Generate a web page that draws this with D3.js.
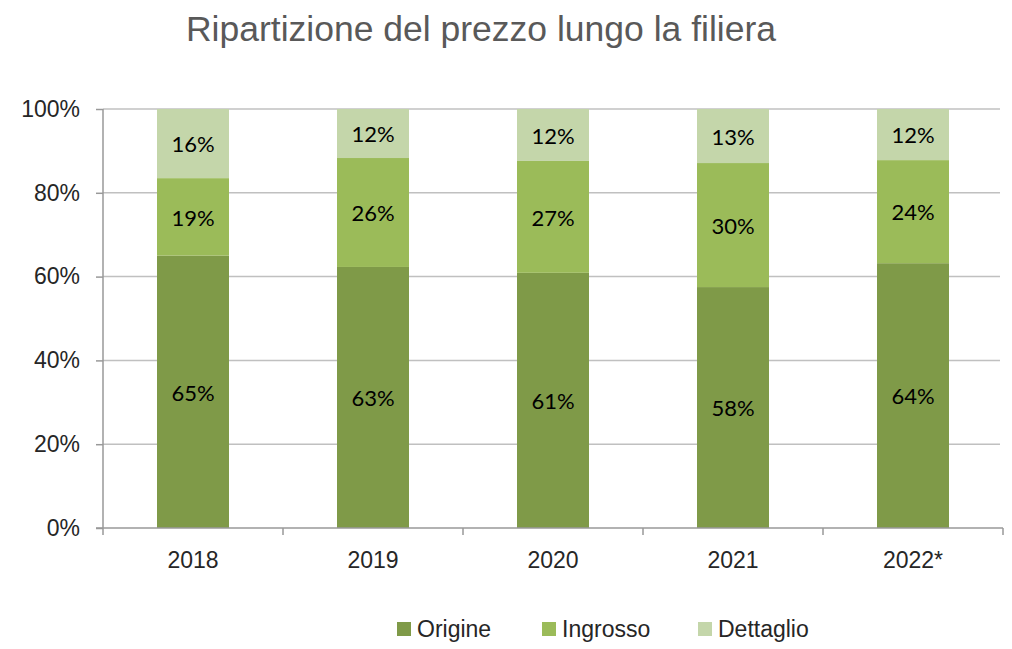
<!DOCTYPE html>
<html>
<head>
<meta charset="utf-8">
<script src="https://cdn.jsdelivr.net/npm/d3@7"></script>
<style>
  body { margin: 0; background: #fff; }
</style>
</head>
<body>
<div id="chart"></div>
<script>
var years = ["2018", "2019", "2020", "2021", "2022*"];
var origine = [65.0, 62.3, 60.9, 57.5, 63.2];
var ingrosso = [18.5, 26.0, 26.7, 29.6, 24.6];
var dettaglio = [16.5, 11.7, 12.4, 12.9, 12.2];
var labOrigine = ["65%", "63%", "61%", "58%", "64%"];
var labIngrosso = ["19%", "26%", "27%", "30%", "24%"];
var labDettaglio = ["16%", "12%", "12%", "13%", "12%"];
var seriesNames = ["Origine", "Ingrosso", "Dettaglio"];
var yTicks = [0, 20, 40, 60, 80, 100];

var colors = { Origine: "#7f9a48", Ingrosso: "#9bbb59", Dettaglio: "#c4d6aa" };
var width = 1012, height = 649;

var svg = d3.select("#chart").append("svg")
  .attr("width", width)
  .attr("height", height);

// title
svg.append("text")
  .attr("x", 481)
  .attr("y", 41)
  .attr("text-anchor", "middle")
  .style("font", "35.5px 'Liberation Sans', Arial, sans-serif")
  .style("fill", "#595959")
  .text("Ripartizione del prezzo lungo la filiera");

var x = d3.scaleBand().domain(years).range([103, 1003]).paddingInner(0.6).paddingOuter(0.3);
var y = d3.scaleLinear().domain([0, 100]).range([528, 109]);

// gridlines
svg.selectAll(".grid")
  .data(yTicks.slice(1))
  .enter().append("line")
  .attr("class", "grid")
  .attr("x1", 103).attr("x2", 1000)
  .attr("y1", function(d) { return y(d); })
  .attr("y2", function(d) { return y(d); })
  .style("stroke", "#c0c0c0")
  .style("stroke-width", 1.5);

// stacked data
var table = years.map(function(yr, i) {
  return { year: yr, Origine: origine[i], Ingrosso: ingrosso[i], Dettaglio: dettaglio[i],
           labels: { Origine: labOrigine[i], Ingrosso: labIngrosso[i], Dettaglio: labDettaglio[i] } };
});
var stack = d3.stack().keys(seriesNames)(table);

var groups = svg.selectAll(".series")
  .data(stack)
  .enter().append("g")
  .attr("class", "series")
  .style("fill", function(s) { return colors[s.key]; });

groups.selectAll("rect")
  .data(function(s) { return s; })
  .enter().append("rect")
  .attr("x", function(d) { return x(d.data.year); })
  .attr("width", x.bandwidth())
  .attr("y", function(d) { return y(d[1]); })
  .attr("height", function(d) { return y(d[0]) - y(d[1]); });

stack.forEach(function(s) {
  svg.selectAll(".lab-" + s.key)
    .data(s)
    .enter().append("text")
    .attr("class", "lab-" + s.key)
    .attr("x", function(d) { return x(d.data.year) + x.bandwidth() / 2; })
    .attr("y", function(d) { return (y(d[0]) + y(d[1])) / 2 + 1; })
    .attr("dy", "0.35em")
    .attr("text-anchor", "middle")
    .style("font", "22px Lato, 'Open Sans', sans-serif")
    .style("fill", "#000")
    .text(function(d) { return d.data.labels[s.key]; });
});

// y axis
var yAxis = svg.append("g")
  .attr("transform", "translate(103,0)")
  .call(d3.axisLeft(y).tickValues(yTicks).tickSize(7).tickPadding(16)
    .tickFormat(function(d) { return d + "%"; }));
yAxis.select(".domain").style("stroke", "#999").style("stroke-width", 1.5).attr("d", "M0,109V528");
yAxis.selectAll(".tick line").style("stroke", "#999").style("stroke-width", 1.5);
yAxis.selectAll("text")
  .style("font", "23px 'Liberation Sans', Arial, sans-serif")
  .style("fill", "#262626");

// x axis
var xAxis = svg.append("g")
  .attr("transform", "translate(0,528)")
  .call(d3.axisBottom(x).tickSize(0).tickPadding(24));
xAxis.select(".domain").style("stroke", "#999").style("stroke-width", 1.5).attr("d", "M96,0H1003");
xAxis.selectAll("text")
  .style("font", "23px 'Liberation Sans', Arial, sans-serif")
  .style("fill", "#262626");
var bounds = years.map(function(yr) { return x(yr) - x.step() * 0.3; }).concat([1003]);
xAxis.selectAll(".bound")
  .data(bounds)
  .enter().append("line")
  .attr("class", "bound")
  .attr("x1", function(d) { return d; }).attr("x2", function(d) { return d; })
  .attr("y1", 0).attr("y2", 7)
  .style("stroke", "#999").style("stroke-width", 1.5);

// legend
var legendX = [397, 542, 698];
var legend = svg.selectAll(".legend")
  .data(seriesNames)
  .enter().append("g")
  .attr("class", "legend")
  .attr("transform", function(d, i) { return "translate(" + legendX[i] + ",622)"; });
legend.append("rect")
  .attr("width", 14).attr("height", 14)
  .style("fill", function(d) { return colors[d]; });
legend.append("text")
  .attr("x", 20).attr("y", 7).attr("dy", "0.35em")
  .style("font", "23px 'Liberation Sans', Arial, sans-serif")
  .style("fill", "#262626")
  .text(function(d) { return d; });
</script>
</body>
</html>
